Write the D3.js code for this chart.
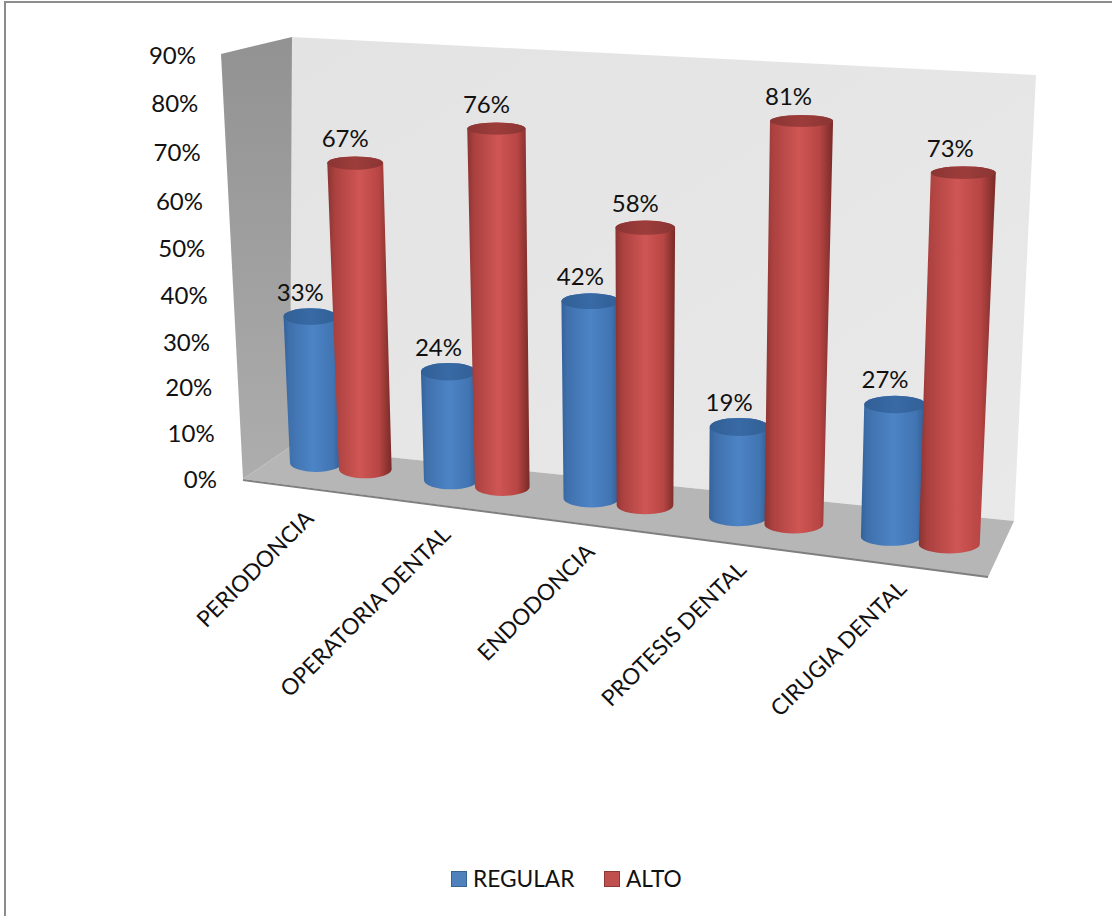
<!DOCTYPE html>
<html><head><meta charset="utf-8">
<script src="https://cdn.jsdelivr.net/npm/d3@7"></script>
<style>html,body{margin:0;background:#fff}svg{display:block}text{font-family:Lato,"Open Sans",sans-serif;fill:#111}</style>
</head><body><svg id="c" width="1112" height="916"></svg>
<script>
const categories = ["PERIODONCIA","OPERATORIA DENTAL","ENDODONCIA","PROTESIS DENTAL","CIRUGIA DENTAL"];
const seriesNames = ["REGULAR","ALTO"];
const regular = [33,24,42,19,27];
const alto = [67,76,58,81,73];
const yTicks = [0,10,20,30,40,50,60,70,80,90];

const svg = d3.select("#c");
const defs = svg.append("defs");
function grad(id, x1, stops){
  const g = defs.append("linearGradient").attr("id",id).attr("x1",x1[0]).attr("y1",x1[1]).attr("x2",x1[2]).attr("y2",x1[3]);
  stops.forEach(s=>g.append("stop").attr("offset",s[0]).attr("stop-color",s[1]));
}
grad("bBody",[0,0,1,0],[[0,"#34629a"],[0.1,"#3f70ac"],[0.5,"#4c84c6"],[0.85,"#4174b2"],[1,"#305c92"]]);
grad("rBody",[0,0,1,0],[[0,"#8a3432"],[0.12,"#ab413f"],[0.5,"#cf5654"],[0.8,"#b84644"],[1,"#782a28"]]);
grad("bTop",[0,0,1,0],[[0,"#325f96"],[0.5,"#386aa5"],[1,"#325f96"]]);
grad("rTop",[0,0,1,0],[[0,"#8a3533"],[0.5,"#9d3d3b"],[1,"#8a3533"]]);
grad("side",[0,0,0,1],[[0,"#929292"],[1,"#adadad"]]);
grad("back",[0,0,1,1],[[0,"#e3e3e3"],[1,"#e9e9e9"]]);

// chart frame
svg.append("path").attr("d","M5,916V2H1112").attr("fill","none").attr("stroke","#8c8c8c").attr("stroke-width",2);
svg.append("polygon").attr("points","292,37 1036,75 1014,521 290,447").attr("fill","url(#back)");
svg.append("polygon").attr("points","221,54 292,37 290,447 243,479").attr("fill","url(#side)");
svg.append("polygon").attr("points","243,479 290,447 1014,521 988,577").attr("fill","#b6b6b6");
svg.append("path").attr("d","M243,480L988,577").attr("stroke","#7f7f7f").attr("stroke-width",2).attr("fill","none");

// perspective scales
const depthX = t => (125.9*t + 316)/(1 - 0.02003*t);        // category position along the floor
const labelX = t => (125.7*t + 315)/(1 - 0.0248*t);
const floorY = x => 472 + (x-316)*0.1285;                   // front of cylinder foot
const unitH = x => 4.47 + (x-300)*0.00085;                  // pixels per percent
const lean = x => (x-637)*0.000121;                          // verticals converge below
const radius = d3.scaleLinear().domain([316,950]).range([26,30.5]);
const axisY = d3.scaleLinear().domain([0,30,60,90]).range([479,342,201,55]);
const axisX = d3.scaleLinear().domain([0,90]).range([217,196]);

const bars = [];
categories.forEach((c,i)=>{
  bars.push({c,i,s:0,v:regular[i],t:i,body:"bBody",top:"bTop"});
  bars.push({c,i,s:1,v:alto[i],t:i+0.37,body:"rBody",top:"rTop"});
});
bars.forEach(d=>{
  d.x0 = depthX(d.t);
  const h = unitH(d.x0)*d.v*(1+0.0006*(d.v-50));
  d.ryB = 9; d.ryT = 10 - d.v*0.05;
  d.y0 = floorY(d.x0) - d.ryB;
  d.x1 = d.x0 + h*lean(d.x0);
  d.y1 = d.y0 - h;
  d.rB = radius(d.x0);
  d.rT = d.rB*(1 + 0.0009*d.v);
});

const g = svg.append("g");
const cyl = g.selectAll("g.bar").data(bars).join("g").attr("class","bar");
cyl.append("path")
  .attr("fill",d=>`url(#${d.body})`)
  .attr("d",d=>`M${d.x1-d.rT},${d.y1}L${d.x0-d.rB},${d.y0}A${d.rB},${d.ryB} 0 0 0 ${d.x0+d.rB},${d.y0}L${d.x1+d.rT},${d.y1}A${d.rT},${d.ryT} 0 0 0 ${d.x1-d.rT},${d.y1}Z`);
cyl.append("ellipse")
  .attr("cx",d=>d.x1).attr("cy",d=>d.y1).attr("rx",d=>d.rT).attr("ry",d=>d.ryT)
  .attr("fill",d=>`url(#${d.top})`);

// value labels
svg.selectAll("text.val").data(bars).join("text").attr("class","val")
  .attr("x",d=>d.x1-10-d.s*(d.x1>700?3:0)).attr("y",d=>d.y1-16)
  .attr("text-anchor","middle").attr("font-size",24).text(d=>d.v+"%");

// y axis labels
svg.selectAll("text.yt").data(yTicks).join("text").attr("class","yt")
  .attr("x",d=>axisX(d)).attr("y",d=>axisY(d)+8.5)
  .attr("text-anchor","end").attr("font-size",24).text(d=>d+"%");

// category labels
svg.selectAll("text.cat").data(categories).join("text").attr("class","cat")
  .attr("transform",(d,i)=>{const x=labelX(i); return `translate(${x},${520+(x-315)*0.118}) rotate(-45)`;})
  .attr("text-anchor","end").attr("font-size",22.5).text(d=>d);

// legend
const legend = d3.scaleOrdinal().domain(seriesNames).range([451,604]);
const lg = svg.selectAll("g.lg").data(seriesNames).join("g").attr("class","lg")
  .attr("transform",d=>`translate(${legend(d)},871)`);
lg.append("rect").attr("x",0.5).attr("y",0.5).attr("width",15).attr("height",15)
  .attr("fill",(d,i)=>i?"#c0504d":"#4f81bd").attr("stroke",(d,i)=>i?"#8c3836":"#386492");
lg.append("text").attr("x",22).attr("y",16).attr("font-size",22.7).text(d=>d);
</script></body></html>
